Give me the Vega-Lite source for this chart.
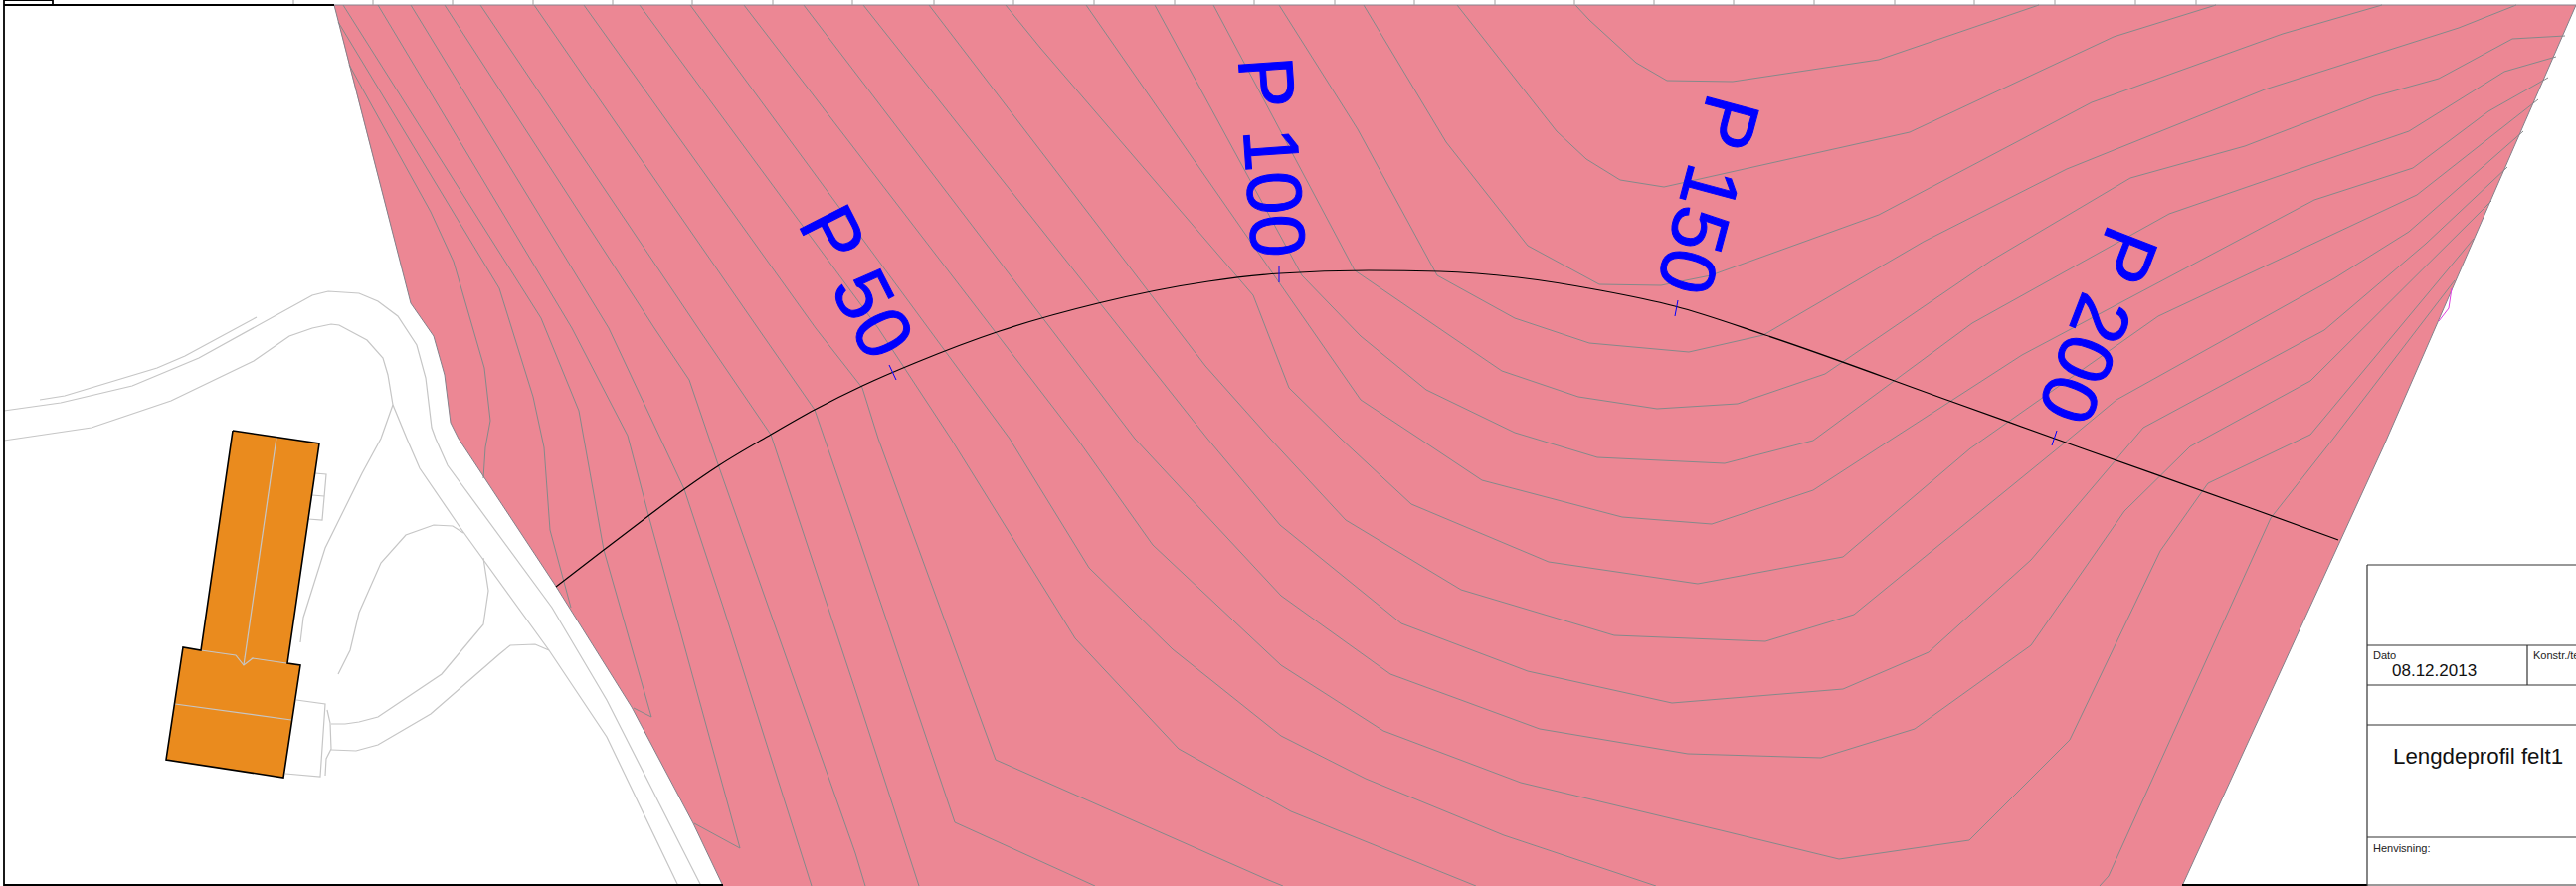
{"$schema":"https://vega.github.io/schema/vega-lite/v6.json","autosize":{"type":"none"},"width":2590,"height":891,"padding":0,"background":"white","config":{"view":{"stroke":null}},
"datasets":{
"field":[{"x":336,"y":5,"y2":5},{"x":351,"y":5,"y2":65},{"x":413,"y":5,"y2":305},{"x":436,"y":5,"y2":338},{"x":447,"y":5,"y2":377},{"x":453,"y":5,"y2":425},{"x":461,"y":5,"y2":441},{"x":558,"y":5,"y2":588},{"x":635,"y":5,"y2":711},{"x":697,"y":5,"y2":828},{"x":727,"y":5,"y2":891},{"x":2194,"y":5,"y2":891},{"x":2396,"y":5,"y2":450},{"x":2590,"y":5,"y2":5}],
"house":[{"k":"a","x":202,"y":654,"y2":654},{"k":"a","x":234,"y":433,"y2":659},{"k":"a","x":289,"y":441,"y2":667},{"k":"a","x":321,"y":446,"y2":446},{"k":"b","x":167,"y":764,"y2":764},{"k":"b","x":184,"y":651,"y2":767},{"k":"b","x":285,"y":666,"y2":782},{"k":"b","x":302,"y":669,"y2":669}],
"edge":[{"k":"l","x":336,"y":5},{"k":"l","x":413,"y":305},{"k":"l","x":436,"y":338},{"k":"l","x":447,"y":377},{"k":"l","x":453,"y":425},{"k":"l","x":461,"y":441},{"k":"l","x":558,"y":588},{"k":"l","x":635,"y":711},{"k":"l","x":697,"y":828},{"k":"l","x":727,"y":891},{"k":"r","x":2194,"y":891},{"k":"r","x":2396,"y":450},{"k":"r","x":2590,"y":5},{"k":"t","x":336,"y":5},{"k":"t","x":2590,"y":5}],
"contours":[
{"k":"c1","x":351,"y":65},{"k":"c1","x":433,"y":213},{"k":"c1","x":456,"y":263},{"k":"c1","x":487,"y":370},{"k":"c1","x":493,"y":423},{"k":"c1","x":488,"y":450},{"k":"c1","x":486,"y":481},
{"k":"c2","x":340,"y":22},{"k":"c2","x":502,"y":290},{"k":"c2","x":536,"y":399},{"k":"c2","x":547,"y":450},{"k":"c2","x":553,"y":533},{"k":"c2","x":574,"y":611},
{"k":"c3","x":345,"y":5},{"k":"c3","x":544,"y":320},{"k":"c3","x":582,"y":413},{"k":"c3","x":587,"y":441},{"k":"c3","x":607,"y":553},{"k":"c3","x":655,"y":721},{"k":"c3","x":637,"y":712},
{"k":"c4","x":380,"y":5},{"k":"c4","x":575,"y":330},{"k":"c4","x":631,"y":438},{"k":"c4","x":652,"y":518},{"k":"c4","x":744,"y":853},{"k":"c4","x":698,"y":828},
{"k":"c5","x":413,"y":5},{"k":"c5","x":612,"y":330},{"k":"c5","x":688,"y":492},{"k":"c5","x":727,"y":610},{"k":"c5","x":816,"y":891},
{"k":"c6","x":447,"y":5},{"k":"c6","x":658,"y":330},{"k":"c6","x":693,"y":382},{"k":"c6","x":723,"y":470},{"k":"c6","x":860,"y":858},{"k":"c6","x":870,"y":891},
{"k":"c7","x":483,"y":5},{"k":"c7","x":702,"y":330},{"k":"c7","x":775,"y":437},{"k":"c7","x":860,"y":694},{"k":"c7","x":924,"y":891},
{"k":"c8","x":537,"y":5},{"k":"c8","x":762,"y":330},{"k":"c8","x":819,"y":412},{"k":"c8","x":860,"y":531},{"k":"c8","x":960,"y":827},{"k":"c8","x":1101,"y":891},
{"k":"c9","x":587,"y":5},{"k":"c9","x":820,"y":330},{"k":"c9","x":867,"y":390},{"k":"c9","x":883,"y":441},{"k":"c9","x":1001,"y":764},{"k":"c9","x":1273,"y":884},{"k":"c9","x":1290,"y":891},
{"k":"O","x":643,"y":5},{"k":"O","x":883,"y":330},{"k":"O","x":956,"y":441},{"k":"O","x":1081,"y":642},{"k":"O","x":1185,"y":753},{"k":"O","x":1298,"y":816},{"k":"O","x":1484,"y":891},
{"k":"N","x":694,"y":5},{"k":"N","x":1015,"y":441},{"k":"N","x":1095,"y":571},{"k":"N","x":1179,"y":653},{"k":"N","x":1288,"y":740},{"k":"N","x":1373,"y":783},{"k":"N","x":1512,"y":840},{"k":"N","x":1665,"y":891},
{"k":"M","x":748,"y":5},{"k":"M","x":1083,"y":441},{"k":"M","x":1159,"y":548},{"k":"M","x":1288,"y":669},{"k":"M","x":1391,"y":735},{"k":"M","x":1529,"y":787},{"k":"M","x":1730,"y":835},{"k":"M","x":1849,"y":864},{"k":"M","x":1980,"y":845},{"k":"M","x":2081,"y":744},{"k":"M","x":2172,"y":554},{"k":"M","x":2220,"y":486},{"k":"M","x":2323,"y":437},{"k":"M","x":2487,"y":240},
{"k":"K","x":808,"y":5},{"k":"K","x":1141,"y":441},{"k":"K","x":1288,"y":599},{"k":"K","x":1398,"y":678},{"k":"K","x":1548,"y":733},{"k":"K","x":1697,"y":758},{"k":"K","x":1831,"y":762},{"k":"K","x":1925,"y":733},{"k":"K","x":2042,"y":649},{"k":"K","x":2136,"y":514},{"k":"K","x":2202,"y":449},{"k":"K","x":2323,"y":383},{"k":"K","x":2505,"y":202},
{"k":"J","x":868,"y":5},{"k":"J","x":1214,"y":441},{"k":"J","x":1287,"y":528},{"k":"J","x":1409,"y":627},{"k":"J","x":1536,"y":675},{"k":"J","x":1681,"y":707},{"k":"J","x":1853,"y":693},{"k":"J","x":1939,"y":656},{"k":"J","x":2042,"y":563},{"k":"J","x":2155,"y":430},{"k":"J","x":2337,"y":332},{"k":"J","x":2439,"y":245},{"k":"J","x":2521,"y":168},
{"k":"I","x":934,"y":5},{"k":"I","x":1212,"y":368},{"k":"I","x":1277,"y":441},{"k":"I","x":1353,"y":523},{"k":"I","x":1469,"y":593},{"k":"I","x":1623,"y":639},{"k":"I","x":1775,"y":645},{"k":"I","x":1864,"y":618},{"k":"I","x":2081,"y":441},{"k":"I","x":2128,"y":402},{"k":"I","x":2347,"y":280},{"k":"I","x":2422,"y":233},{"k":"I","x":2537,"y":132},
{"k":"H","x":1011,"y":5},{"k":"H","x":1046,"y":48},{"k":"H","x":1260,"y":297},{"k":"H","x":1296,"y":390},{"k":"H","x":1348,"y":441},{"k":"H","x":1419,"y":507},{"k":"H","x":1557,"y":565},{"k":"H","x":1707,"y":587},{"k":"H","x":1853,"y":560},{"k":"H","x":1981,"y":451},{"k":"H","x":2170,"y":318},{"k":"H","x":2430,"y":196},{"k":"H","x":2552,"y":100},
{"k":"G","x":1092,"y":5},{"k":"G","x":1368,"y":402},{"k":"G","x":1427,"y":441},{"k":"G","x":1490,"y":483},{"k":"G","x":1631,"y":520},{"k":"G","x":1721,"y":527},{"k":"G","x":1823,"y":493},{"k":"G","x":1903,"y":441},{"k":"G","x":2033,"y":357},{"k":"G","x":2327,"y":201},{"k":"G","x":2426,"y":169},{"k":"G","x":2502,"y":112},{"k":"G","x":2562,"y":78},
{"k":"F","x":1161,"y":5},{"k":"F","x":1309,"y":277},{"k":"F","x":1368,"y":338},{"k":"F","x":1434,"y":392},{"k":"F","x":1523,"y":435},{"k":"F","x":1606,"y":460},{"k":"F","x":1734,"y":466},{"k":"F","x":1823,"y":443},{"k":"F","x":1983,"y":325},{"k":"F","x":2181,"y":215},{"k":"F","x":2422,"y":132},{"k":"F","x":2518,"y":72},{"k":"F","x":2570,"y":57},
{"k":"E","x":1220,"y":5},{"k":"E","x":1362,"y":272},{"k":"E","x":1457,"y":337},{"k":"E","x":1510,"y":373},{"k":"E","x":1587,"y":399},{"k":"E","x":1666,"y":411},{"k":"E","x":1747,"y":406},{"k":"E","x":1835,"y":376},{"k":"E","x":2002,"y":262},{"k":"E","x":2142,"y":179},{"k":"E","x":2257,"y":147},{"k":"E","x":2387,"y":97},{"k":"E","x":2452,"y":79},{"k":"E","x":2526,"y":39},{"k":"E","x":2579,"y":36},
{"k":"D","x":1286,"y":5},{"k":"D","x":1365,"y":130},{"k":"D","x":1445,"y":277},{"k":"D","x":1523,"y":320},{"k":"D","x":1598,"y":345},{"k":"D","x":1698,"y":354},{"k":"D","x":1773,"y":337},{"k":"D","x":1934,"y":243},{"k":"D","x":2078,"y":170},{"k":"D","x":2277,"y":90},{"k":"D","x":2472,"y":28},{"k":"D","x":2530,"y":5},
{"k":"C","x":1371,"y":5},{"k":"C","x":1454,"y":143},{"k":"C","x":1536,"y":247},{"k":"C","x":1608,"y":286},{"k":"C","x":1670,"y":287},{"k":"C","x":1720,"y":277},{"k":"C","x":1889,"y":216},{"k":"C","x":2103,"y":103},{"k":"C","x":2295,"y":34},{"k":"C","x":2395,"y":5},
{"k":"B","x":1465,"y":5},{"k":"B","x":1565,"y":132},{"k":"B","x":1595,"y":160},{"k":"B","x":1629,"y":181},{"k":"B","x":1673,"y":188},{"k":"B","x":1920,"y":133},{"k":"B","x":2125,"y":37},{"k":"B","x":2228,"y":5},
{"k":"A","x":1584,"y":5},{"k":"A","x":1598,"y":20},{"k":"A","x":1645,"y":63},{"k":"A","x":1676,"y":81},{"k":"A","x":1742,"y":82},{"k":"A","x":1889,"y":60},{"k":"A","x":2050,"y":5},
{"k":"L","x":2111,"y":891},{"k":"L","x":2120,"y":881},{"k":"L","x":2283,"y":521},{"k":"L","x":2346,"y":441},{"k":"L","x":2468,"y":282}],
"roads":[
{"k":"r1","x":4,"y":413},{"k":"r1","x":61,"y":405},{"k":"r1","x":133,"y":388},{"k":"r1","x":200,"y":360},{"k":"r1","x":314,"y":297},{"k":"r1","x":330,"y":293},{"k":"r1","x":361,"y":295},{"k":"r1","x":380,"y":303},{"k":"r1","x":400,"y":318},{"k":"r1","x":419,"y":347},{"k":"r1","x":428,"y":380},{"k":"r1","x":434,"y":430},{"k":"r1","x":438,"y":441},{"k":"r1","x":450,"y":468},{"k":"r1","x":555,"y":611},{"k":"r1","x":610,"y":704},{"k":"r1","x":705,"y":891},
{"k":"r2","x":4,"y":443},{"k":"r2","x":92,"y":430},{"k":"r2","x":172,"y":403},{"k":"r2","x":255,"y":363},{"k":"r2","x":291,"y":338},{"k":"r2","x":314,"y":330},{"k":"r2","x":333,"y":326},{"k":"r2","x":341,"y":327},{"k":"r2","x":369,"y":342},{"k":"r2","x":385,"y":360},{"k":"r2","x":390,"y":377},{"k":"r2","x":395,"y":407},{"k":"r2","x":409,"y":441},{"k":"r2","x":422,"y":471},{"k":"r2","x":463,"y":531},{"k":"r2","x":552,"y":654},{"k":"r2","x":610,"y":741},{"k":"r2","x":682,"y":891},
{"k":"r3","x":40,"y":402},{"k":"r3","x":65,"y":398},{"k":"r3","x":158,"y":370},{"k":"r3","x":186,"y":358},{"k":"r3","x":258,"y":319},
{"k":"r4","x":395,"y":407},{"k":"r4","x":383,"y":441},{"k":"r4","x":364,"y":476},{"k":"r4","x":327,"y":551},{"k":"r4","x":305,"y":621},{"k":"r4","x":302,"y":646},
{"k":"r5","x":466,"y":536},{"k":"r5","x":455,"y":529},{"k":"r5","x":436,"y":528},{"k":"r5","x":408,"y":538},{"k":"r5","x":383,"y":566},{"k":"r5","x":361,"y":616},{"k":"r5","x":352,"y":654},{"k":"r5","x":340,"y":678},
{"k":"r6","x":486,"y":561},{"k":"r6","x":491,"y":594},{"k":"r6","x":486,"y":628},{"k":"r6","x":444,"y":678},{"k":"r6","x":380,"y":721},{"k":"r6","x":361,"y":726},{"k":"r6","x":347,"y":728},{"k":"r6","x":333,"y":728},
{"k":"r7","x":552,"y":654},{"k":"r7","x":538,"y":648},{"k":"r7","x":513,"y":649},{"k":"r7","x":502,"y":658},{"k":"r7","x":433,"y":718},{"k":"r7","x":380,"y":749},{"k":"r7","x":358,"y":755},{"k":"r7","x":333,"y":754},
{"k":"a1","x":317,"y":476},{"k":"a1","x":328,"y":477},{"k":"a1","x":324,"y":523},{"k":"a1","x":310,"y":522},
{"k":"a2","x":314,"y":498},{"k":"a2","x":326,"y":499},
{"k":"a3","x":298,"y":704},{"k":"a3","x":327,"y":708},{"k":"a3","x":322,"y":781},{"k":"a3","x":287,"y":778},
{"k":"a4","x":329,"y":714},{"k":"a4","x":332,"y":727},{"k":"a4","x":333,"y":753},{"k":"a4","x":328,"y":763},{"k":"a4","x":327,"y":780},
{"k":"h1","x":278,"y":440},{"k":"h1","x":245,"y":669},
{"k":"h2","x":202,"y":654},{"k":"h2","x":237,"y":659},{"k":"h2","x":245,"y":669},{"k":"h2","x":254,"y":662},{"k":"h2","x":288,"y":667},
{"k":"h3","x":176,"y":708},{"k":"h3","x":293,"y":724}],
"houseOutline":[{"k":"o","x":234,"y":433},{"k":"o","x":321,"y":446},{"k":"o","x":289,"y":667},{"k":"o","x":302,"y":669},{"k":"o","x":285,"y":782},{"k":"o","x":167,"y":764},{"k":"o","x":184,"y":651},{"k":"o","x":202,"y":654},{"k":"o","x":234,"y":433}],
"profile":[{"x":559,"y":590},{"x":607,"y":553},{"x":653,"y":518},{"x":688,"y":492},{"x":723,"y":468},{"x":775,"y":437},{"x":819,"y":412},{"x":867,"y":388},{"x":920,"y":365},{"x":1005,"y":333},{"x":1104,"y":305},{"x":1215,"y":283},{"x":1287,"y":275},{"x":1376,"y":272},{"x":1448,"y":273},{"x":1526,"y":279},{"x":1609,"y":292},{"x":1684,"y":308},{"x":1775,"y":337},{"x":1960,"y":403},{"x":2091,"y":450},{"x":2260,"y":510},{"x":2351,"y":543}],
"stations":[{"k":"50","x":894,"y":367},{"k":"50","x":901,"y":382},{"k":"100","x":1286,"y":268},{"k":"100","x":1286,"y":284},{"k":"150","x":1687,"y":302},{"k":"150","x":1684,"y":318},{"k":"200","x":2068,"y":433},{"k":"200","x":2063,"y":448}],
"magenta":[{"x":2465,"y":290},{"x":2462,"y":310},{"x":2452,"y":323}],
"frameBlack":[{"k":"l","x":4,"y":0},{"k":"l","x":4,"y":891},{"k":"t","x":4,"y":5},{"k":"t","x":336,"y":5},{"k":"b","x":4,"y":890},{"k":"b","x":727,"y":890},{"k":"b2","x":2194,"y":890},{"k":"b2","x":2380,"y":890},{"k":"n","x":53,"y":0},{"k":"n","x":53,"y":5},{"k":"u","x":4,"y":0},{"k":"u","x":53,"y":0}],
"ticks":[{"k":"295","x":295,"y":0},{"k":"295","x":295,"y":5},{"k":"375","x":375,"y":0},{"k":"375","x":375,"y":5},{"k":"455","x":455,"y":0},{"k":"455","x":455,"y":5},{"k":"536","x":536,"y":0},{"k":"536","x":536,"y":5},{"k":"616","x":616,"y":0},{"k":"616","x":616,"y":5},{"k":"696","x":696,"y":0},{"k":"696","x":696,"y":5},{"k":"777","x":777,"y":0},{"k":"777","x":777,"y":5},{"k":"857","x":857,"y":0},{"k":"857","x":857,"y":5},{"k":"939","x":939,"y":0},{"k":"939","x":939,"y":5},{"k":"1019","x":1019,"y":0},{"k":"1019","x":1019,"y":5},{"k":"1100","x":1100,"y":0},{"k":"1100","x":1100,"y":5},{"k":"1181","x":1181,"y":0},{"k":"1181","x":1181,"y":5},{"k":"1261","x":1261,"y":0},{"k":"1261","x":1261,"y":5},{"k":"1342","x":1342,"y":0},{"k":"1342","x":1342,"y":5},{"k":"1422","x":1422,"y":0},{"k":"1422","x":1422,"y":5},{"k":"1503","x":1503,"y":0},{"k":"1503","x":1503,"y":5},{"k":"1583","x":1583,"y":0},{"k":"1583","x":1583,"y":5},{"k":"1663","x":1663,"y":0},{"k":"1663","x":1663,"y":5},{"k":"1743","x":1743,"y":0},{"k":"1743","x":1743,"y":5},{"k":"1824","x":1824,"y":0},{"k":"1824","x":1824,"y":5},{"k":"1905","x":1905,"y":0},{"k":"1905","x":1905,"y":5},{"k":"1985","x":1985,"y":0},{"k":"1985","x":1985,"y":5},{"k":"2066","x":2066,"y":0},{"k":"2066","x":2066,"y":5},{"k":"2147","x":2147,"y":0},{"k":"2147","x":2147,"y":5},{"k":"2208","x":2208,"y":0},{"k":"2208","x":2208,"y":5}],
"block":[{"k":"v","x":2380,"y":568},{"k":"v","x":2380,"y":891},{"k":"t","x":2380,"y":568},{"k":"t","x":2590,"y":568},{"k":"h1","x":2380,"y":649},{"k":"h1","x":2590,"y":649},{"k":"h2","x":2380,"y":689},{"k":"h2","x":2590,"y":689},{"k":"h3","x":2380,"y":729},{"k":"h3","x":2590,"y":729},{"k":"h4","x":2380,"y":842},{"k":"h4","x":2590,"y":842},{"k":"h5","x":2380,"y":890},{"k":"h5","x":2590,"y":890},{"k":"m","x":2541,"y":649},{"k":"m","x":2541,"y":689}]
},
"encoding":{"x":{"field":"x","type":"quantitative","scale":{"domain":[0,2590],"nice":false,"zero":false},"axis":null},"y":{"field":"y","type":"quantitative","scale":{"domain":[891,0],"nice":false,"zero":false},"axis":null}},
"layer":[
{"data":{"name":"field"},"mark":{"type":"area","color":"#EC8794","orient":"vertical"},"encoding":{"y":{"field":"y","type":"quantitative","stack":null,"scale":{"domain":[891,0],"nice":false,"zero":false},"axis":null},"y2":{"field":"y2"}}},
{"data":{"name":"contours"},"mark":{"type":"line","stroke":"#85898A","strokeWidth":1},"encoding":{"detail":{"field":"k"},"order":{"value":null}}},
{"data":{"name":"edge"},"mark":{"type":"line","stroke":"#85808A","strokeWidth":1},"encoding":{"detail":{"field":"k"},"order":{"value":null}}},
{"data":{"name":"magenta"},"mark":{"type":"line","stroke":"#E040E0","strokeWidth":1},"encoding":{"order":{"value":null}}},
{"data":{"name":"house"},"mark":{"type":"area","color":"#EA8B1E","orient":"vertical"},"encoding":{"y":{"field":"y","type":"quantitative","stack":null,"scale":{"domain":[891,0],"nice":false,"zero":false},"axis":null},"y2":{"field":"y2"},"detail":{"field":"k"}}},
{"data":{"name":"roads"},"mark":{"type":"line","stroke":"#C6C6C6","strokeWidth":1.2},"encoding":{"detail":{"field":"k"},"order":{"value":null}}},
{"data":{"name":"houseOutline"},"mark":{"type":"line","stroke":"#000000","strokeWidth":1.6},"encoding":{"detail":{"field":"k"},"order":{"value":null}}},
{"data":{"name":"profile"},"mark":{"type":"line","stroke":"#000000","strokeWidth":1.2,"interpolate":"monotone"},"encoding":{"order":{"value":null}}},
{"data":{"name":"stations"},"mark":{"type":"line","stroke":"#0000FF","strokeWidth":1},"encoding":{"detail":{"field":"k"},"order":{"value":null}}},
{"data":{"name":"ticks"},"mark":{"type":"line","stroke":"#A0A0A0","strokeWidth":1},"encoding":{"detail":{"field":"k"},"order":{"value":null}}},
{"data":{"name":"frameBlack"},"mark":{"type":"line","stroke":"#000000","strokeWidth":1.8},"encoding":{"detail":{"field":"k"},"order":{"value":null}}},
{"data":{"name":"block"},"mark":{"type":"line","stroke":"#333333","strokeWidth":1.2},"encoding":{"detail":{"field":"k"},"order":{"value":null}}},
{"data":{"values":[{"t":"P 50","x":858,"y":285}]},"mark":{"type":"text","font":"Liberation Sans","fontSize":78,"color":"#0000FF","stroke":"#0000FF","strokeWidth":1,"angle":63,"align":"center","baseline":"middle"},"encoding":{"text":{"field":"t"}}},
{"data":{"values":[{"t":"P 100","x":1275,"y":158}]},"mark":{"type":"text","font":"Liberation Sans","fontSize":78,"color":"#0000FF","stroke":"#0000FF","strokeWidth":1,"angle":86,"align":"center","baseline":"middle"},"encoding":{"text":{"field":"t"}}},
{"data":{"values":[{"t":"P 150","x":1714,"y":195}]},"mark":{"type":"text","font":"Liberation Sans","fontSize":78,"color":"#0000FF","stroke":"#0000FF","strokeWidth":1,"angle":105,"align":"center","baseline":"middle"},"encoding":{"text":{"field":"t"}}},
{"data":{"values":[{"t":"P 200","x":2106,"y":326}]},"mark":{"type":"text","font":"Liberation Sans","fontSize":78,"color":"#0000FF","stroke":"#0000FF","strokeWidth":1,"angle":111,"align":"center","baseline":"middle"},"encoding":{"text":{"field":"t"}}},
{"data":{"values":[{"t":"Dato","x":2386,"y":663},{"t":"Konstr./te","x":2547,"y":663},{"t":"Henvisning:","x":2386,"y":857}]},"mark":{"type":"text","font":"Liberation Sans","fontSize":11,"color":"#222222","align":"left","baseline":"alphabetic","clip":true},"encoding":{"text":{"field":"t"}}},
{"data":{"values":[{"t":"08.12.2013","x":2405,"y":680}]},"mark":{"type":"text","font":"Liberation Sans","fontSize":17,"color":"#111111","align":"left","baseline":"alphabetic"},"encoding":{"text":{"field":"t"}}},
{"data":{"values":[{"t":"Lengdeprofil felt1","x":2406,"y":768}]},"mark":{"type":"text","font":"Liberation Sans","fontSize":22.3,"color":"#111111","align":"left","baseline":"alphabetic"},"encoding":{"text":{"field":"t"}}}
]}
